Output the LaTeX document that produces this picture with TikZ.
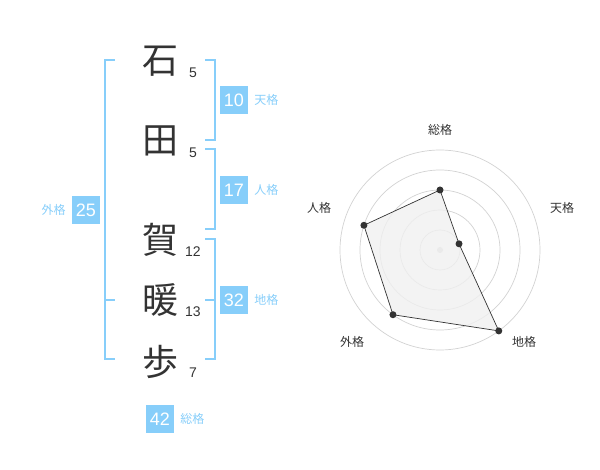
\documentclass[tikz,border=0pt]{standalone}
\usepackage{fontspec}
\setmainfont{Liberation Sans}
\newfontfamily\cjk{Noto Sans CJK JP}
\usetikzlibrary{positioning}
\definecolor{kakublue}{RGB}{135,206,250}
\definecolor{inkgray}{RGB}{51,51,51}
\definecolor{ringgray}{RGB}{210,210,210}
\tikzset{>=latex}
\tikzset{
  kanji/.style={font=\cjk\fontsize{36}{36}\selectfont, text=inkgray, inner sep=0pt},
  strokes/.style={font=\fontsize{14}{14}\selectfont, text=inkgray, inner sep=0pt},
  kakubox/.style={fill=kakublue, text=white, minimum size=28pt, inner sep=0pt, font=\fontsize{18}{18}\selectfont},
  kakuname/.style={font=\cjk\fontsize{12}{12}\selectfont, text=kakublue, inner sep=0pt},
  bracket/.style={draw=kakublue, line width=2pt},
  ring/.style={draw=ringgray, line width=0.7pt},
  axisname/.style={font=\cjk\fontsize{12}{12}\selectfont, text=inkgray, inner sep=0pt},
  dot/.style={circle, fill=inkgray, inner sep=0pt, minimum size=7pt},
}
\newcommand{\kaku}[1]{#1格}

\begin{document}
\begin{tikzpicture}[x=1pt,y=-1pt]
  \useasboundingbox (0,0) rectangle (600,470);
  % name, one character per line
  \node[kanji] (ishi) at (160,61) {石};
  \node[kanji] (ta)   at (160,141) {田};
  \node[kanji] (ga)   at (160,240) {賀};
  \node[kanji] (dan)  at (160,300) {暖};
  \node[kanji] (ayu)  at (160,362) {歩};
  \node[strokes] (n1) at (193,73) {5};
  \node[strokes] (n2) at (193,153) {5};
  \node[strokes] (n3) at (193,252) {12};
  \node[strokes] (n4) at (193,312) {13};
  \node[strokes] (n5) at (193,373) {7};
  % brackets
  \draw[bracket] (205,60) -- (215,60) -- (215,140) -- (205,140);
  \draw[bracket] (205,149) -- (215,149) -- (215,229) -- (205,229);
  \draw[bracket] (205,239) -- (215,239) -- (215,359) -- (205,359);
  \draw[bracket] (205,300) -- (215,300);
  \draw[bracket] (115,60) -- (105,60) -- (105,359) -- (115,359);
  \draw[bracket] (105,300) -- (115,300);
  % totals
  \node[kakubox] (ten) at (234,100) {10};
  \node[kakuname, right=6pt of ten] (tenname) {\kaku{天}};
  \node[kakubox] (jin) at (234,190) {17};
  \node[kakuname, right=6pt of jin] (jinname) {\kaku{人}};
  \node[kakubox] (chi) at (234,300) {32};
  \node[kakuname, right=6pt of chi] (chiname) {\kaku{地}};
  \node[kakubox] (gai) at (86,210) {25};
  \node[kakuname, left=6pt of gai] (gainame) {\kaku{外}};
  \node[kakubox] (sou) at (160,419) {42};
  \node[kakuname, right=6pt of sou] (souname) {\kaku{総}};
  % radar chart
  \begin{scope}[shift={(440,250)}, y=1pt]
    \foreach \r in {20,40,...,100}
      \draw[ring] (0,0) circle (\r);
    \fill[ringgray] (0,0) circle (3);
    \coordinate (psou) at (90:60);
    \coordinate (pten) at (18:20);
    \coordinate (pchi) at (-54:100);
    \coordinate (pgai) at (-126:80);
    \coordinate (pjin) at (162:80);
    \filldraw[fill=black!6, fill opacity=0.8, draw=inkgray, line width=0.7pt]
      (psou) -- (pten) -- (pchi) -- (pgai) -- (pjin) -- cycle;
    \foreach \p in {psou,pten,pchi,pgai,pjin}
      \node[dot] at (\p) {};
    \node[axisname] (asou) at (0,120) {\kaku{総}};
    \node[axisname] (aten) at (122,42) {\kaku{天}};
    \node[axisname] (achi) at (84,-92) {\kaku{地}};
    \node[axisname] (agai) at (-88,-92) {\kaku{外}};
    \node[axisname] (ajin) at (-121,42) {\kaku{人}};
  \end{scope}
\end{tikzpicture}
\end{document}
